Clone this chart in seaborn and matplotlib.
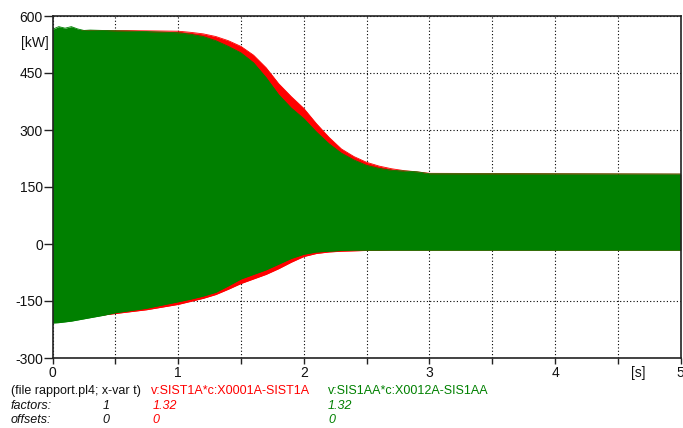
import numpy as np
import pandas as pd
import matplotlib
matplotlib.use("Agg")
import matplotlib.pyplot as plt
import seaborn as sns

# Envelope of the oscillating power signals
t = [0.0, 0.05, 0.1, 0.15, 0.2, 0.25, 0.3, 0.4, 0.5, 0.75, 1.0, 1.1, 1.2, 1.3, 1.4,
     1.5, 1.6, 1.7, 1.8, 1.9, 2.0, 2.1, 2.2, 2.3, 2.4, 2.5, 2.6, 2.7, 2.8, 2.9,
     3.0, 5.0]
red_upper = [558, 560, 563, 562, 561, 562, 562, 562, 562, 561, 560, 557, 553, 546, 535,
             520, 497, 464, 422, 388, 357, 317, 281, 250, 230, 215, 205, 198, 193, 190,
             186, 184]
green_upper = [565, 572, 568, 572, 566, 562, 563, 562, 561, 559, 556, 552, 546, 535, 520,
               503, 477, 438, 393, 358, 330, 295, 264, 239, 221, 207, 199, 194, 192, 190,
               185, 184]
red_lower = [-205, -204, -202, -200, -197, -195, -192, -187, -183, -173, -159, -151, -143, -133, -119,
             -104, -92, -80, -65, -48, -33, -25, -21, -19, -18, -17, -17, -16, -16, -16,
             -16, -16]
green_lower = [-208, -207, -205, -203, -200, -197, -194, -188, -181, -169, -152, -145, -137, -127, -110,
               -92, -80, -68, -53, -38, -27, -21, -19, -17, -16, -16, -16, -16, -16, -16,
               -16, -16]

yticks = [-300, -150, 0, 150, 300, 450, 600]
xtick_labels = ["0", "", "1", "", "2", "", "3", "", "4", "", ""]

RED = "#ff0000"
GREEN = "#008000"

df = pd.DataFrame({"t": t, "ru": red_upper, "gu": green_upper,
                   "rl": red_lower, "gl": green_lower})

sns.set_theme(style="white")
plt.rcParams["font.family"] = ["Liberation Sans", "DejaVu Sans"]

fig = plt.figure(figsize=(6.83, 4.28), dpi=100)
ax = fig.add_axes([52.5 / 683, 1 - 358 / 428, (680.7 - 52.5) / 683, (358 - 16) / 428])

ax.fill_between(df["t"], df["rl"], df["ru"], color=RED, lw=0, zorder=2)
ax.fill_between(df["t"], df["gl"], df["gu"], color=GREEN, lw=0, zorder=3)
for col, c, z in [("ru", RED, 2), ("rl", RED, 2), ("gu", GREEN, 3), ("gl", GREEN, 3)]:
    sns.lineplot(data=df, x="t", y=col, color=c, lw=0.6, ax=ax, zorder=z)

ax.set_xlim(0, 5)
ax.set_ylim(-300, 600)
ax.set_xlabel("")
ax.set_ylabel("")

ax.set_xticks(np.arange(0, 5.01, 0.5))
ax.set_xticklabels(xtick_labels)
ax.set_yticks(yticks)
ax.set_yticklabels([str(v) for v in yticks])
ax.tick_params(axis="both", direction="out", width=1, color="#222222",
               labelsize=10, left=True, bottom=True, labelcolor="#111111")
ax.tick_params(axis="y", length=6.5, pad=0.5)
ax.tick_params(axis="x", length=4.5, pad=1.5)

ax.grid(True, color="#000000", linestyle=(0, (1, 2)), linewidth=0.8)
for s in ax.spines.values():
    s.set_color("#222222")
    s.set_linewidth(1.2)
    s.set_zorder(5)
for gl in ax.get_xgridlines() + ax.get_ygridlines():
    gl.set_zorder(1)

fig.text(21 / 683, 1 - 43 / 428, "[kW]", fontsize=10, va="center", ha="left", color="#111111")
fig.text(638 / 683, 1 - 373 / 428, "[s]", fontsize=10, va="center", ha="center", color="#111111")
fig.text(684 / 683, 1 - 373 / 428, "5", fontsize=10, va="center", ha="right", color="#111111")

fs = 9
rows = [391, 406, 420]
fig.text(11 / 683, 1 - rows[0] / 428, "(file rapport.pl4; x-var t)", fontsize=fs, va="center", color="#111111")
fig.text(151 / 683, 1 - rows[0] / 428, "v:SIST1A*c:X0001A-SIST1A", fontsize=fs, va="center", color=RED)
fig.text(328 / 683, 1 - rows[0] / 428, "v:SIS1AA*c:X0012A-SIS1AA", fontsize=fs, va="center", color=GREEN)
fig.text(11 / 683, 1 - rows[1] / 428, "factors:", fontsize=fs, va="center", style="italic", color="#111111")
fig.text(103 / 683, 1 - rows[1] / 428, "1", fontsize=fs, va="center", style="italic", color="#111111")
fig.text(153 / 683, 1 - rows[1] / 428, "1.32", fontsize=fs, va="center", style="italic", color=RED)
fig.text(328 / 683, 1 - rows[1] / 428, "1.32", fontsize=fs, va="center", style="italic", color=GREEN)
fig.text(11 / 683, 1 - rows[2] / 428, "offsets:", fontsize=fs, va="center", style="italic", color="#111111")
fig.text(102 / 683, 1 - rows[2] / 428, "0", fontsize=fs, va="center", style="italic", color="#111111")
fig.text(152 / 683, 1 - rows[2] / 428, "0", fontsize=fs, va="center", style="italic", color=RED)
fig.text(328 / 683, 1 - rows[2] / 428, "0", fontsize=fs, va="center", style="italic", color=GREEN)

fig.savefig("out.png", dpi=100)
